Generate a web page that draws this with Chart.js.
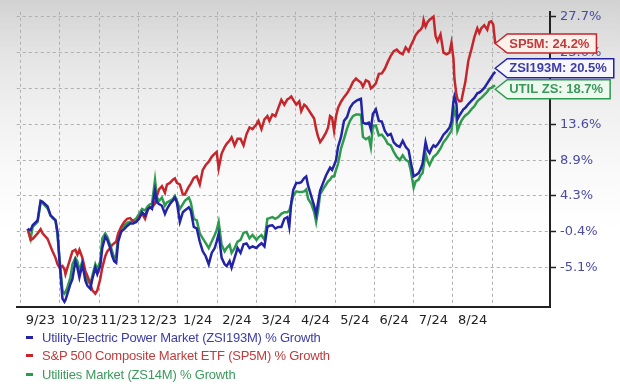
<!DOCTYPE html>
<html><head><meta charset="utf-8">
<script src="https://cdn.jsdelivr.net/npm/chart.js@4/dist/chart.umd.min.js"></script>
<style>
html,body{margin:0;padding:0;}
body{width:620px;height:387px;overflow:hidden;position:relative;
background:linear-gradient(180deg,#d2d2d2 0px,#e3e3e3 50px,#f0f0f0 110px,#f9f9f9 170px,#ffffff 230px);
font-family:"Liberation Sans",Arial,sans-serif;}
#c{position:absolute;left:0;top:0;}
#legend{position:absolute;left:26px;top:328px;font-size:13px;letter-spacing:-0.2px;}
.item{display:flex;align-items:center;height:18.5px;white-space:nowrap;}
.mk{display:inline-block;width:7px;height:3px;margin-right:9px;}
</style></head>
<body>
<canvas id="c" width="620" height="387"></canvas>
<div id="legend"></div>
<script>
// time axis: months elapsed since 1 Sep 2023
const monthsElapsed = [0.177,0.253,0.304,0.430,0.506,0.557,0.684,0.759,0.810,0.886,0.937,0.987,1.063,1.114,1.139,1.190,1.266,1.316,1.392,1.443,1.494,1.570,1.646,1.696,1.772,1.823,1.899,1.949,2.025,2.076,2.152,2.203,2.278,2.329,2.380,2.430,2.481,2.557,2.633,2.709,2.785,2.861,2.937,3.013,
3.089,3.165,3.241,3.291,3.342,3.418,3.468,3.519,3.595,3.671,3.722,3.797,3.873,3.924,3.975,4.051,4.127,4.177,4.278,4.329,4.405,4.481,4.557,4.633,4.709,4.785,4.861,4.937,4.987,5.038,5.114,5.190,5.241,5.316,5.367,5.443,5.519,5.595,5.671,5.747,5.823,5.899,
6.000,6.051,6.127,6.203,6.278,6.329,6.405,6.481,6.557,6.633,6.709,6.785,6.835,6.886,6.937,7.013,7.089,7.139,7.215,7.266,7.316,7.392,7.468,7.519,7.570,7.620,7.696,7.772,7.823,7.873,7.924,7.975,8.025,8.076,8.152,8.228,8.304,8.380,8.456,8.532,8.582,8.658,8.709,8.785,8.861,8.911,8.962,
9.038,9.114,9.190,9.266,9.342,9.418,9.494,9.570,9.646,9.722,9.797,9.873,9.924,10.000,10.051,10.127,10.177,10.228,10.253,10.304,10.354,10.405,10.456,10.506,10.557,10.608,10.684,10.759,10.835,10.911,10.962,11.013,11.038,11.089,11.114,11.165,11.215,11.266,11.316,11.392,11.468,11.544,11.620,11.671,11.722,11.797,11.873,11.924,11.975,12.025,12.076];

const electricPower = [0.0,-0.17,0.47,1.11,3.66,3.54,2.94,1.75,1.54,1.11,-0.38,-4.21,-9.10,-9.52,-9.3,-8.46,-7.19,-6.55,-4.21,-5.06,-6.33,-4.63,-6.76,-7.40,-7.82,-6.55,-5.06,-5.91,-4.84,-2.50,-1.02,-1.44,-2.50,-3.57,-4.21,-4.42,-1.65,-0.38,-0.04,0.39,0.69,0.69,0.90,1.32,
2.17,1.75,2.6,2.81,2.6,5.0,3.45,3.24,3.02,1.96,2.6,3.24,3.7,4.09,3.45,0.90,2.17,2.39,2.81,2.39,0.26,0.05,-1.66,-2.93,-3.57,-4.63,-3.14,-2.51,-1.66,-0.63,-3.78,-4.63,-4.85,-4.21,-5.06,-3.78,-2.51,-3.14,-2.0,-1.9,-2.51,-2.3,
-2.50,-2.2,-1.87,-2.29,0.26,0.4,0.47,0.05,0.26,0.26,1.32,1.54,0.26,3.45,5.1,6.0,6.0,6.1,6.64,6.85,5.6,4.3,3.0,1.9,3.5,5.0,6.0,7.0,7.5,8.0,7.7,8.3,8.98,10.7,12.0,14.1,14.6,15.8,16.4,16.7,16.85,17.0,13.87,13.7,13.87,13.0,15.0,
15.6,14.1,14.0,12.8,12.2,12.4,11.3,10.9,10.7,11.5,10.7,10.26,8.8,6.85,7.0,7.28,7.8,8.55,9.5,11.32,10.26,9.9,10.5,10.9,10.7,11.0,11.6,12.3,12.7,13.2,14.0,16.64,17.3,16.3,14.3,14.8,15.2,15.6,15.8,16.3,16.7,17.1,17.7,17.8,18.0,18.4,19.0,19.4,19.8,20.2,20.5];

const sp500 = [0.0,-1.44,-1.31,-0.59,-0.04,-0.59,-1.31,-2.29,-2.93,-3.78,-4.63,-5.06,-4.84,-5.27,-5.91,-5.06,-3.78,-2.93,-2.72,-3.36,-2.72,-3.78,-5.48,-6.12,-7.19,-8.04,-8.46,-8.04,-6.55,-5.06,-3.57,-2.93,-2.50,-2.08,-1.87,-1.65,-0.59,0.26,0.90,1.32,1.41,0.98,0.90,1.5,
2.0,1.32,2.6,2.81,2.81,3.3,4.30,5.15,5.58,4.73,5.79,6.0,6.43,6.6,6.0,5.79,4.5,4.5,5.5,5.9,6.64,6.86,5.79,7.70,8.34,8.77,9.41,9.83,10.04,7.9,9.83,10.68,11.1,11.53,11.96,10.90,11.75,11.75,10.90,12.38,13.24,13.02,
13.66,14.09,13.02,14.30,14.72,14.09,14.94,14.72,15.79,16.85,16.21,16.9,17.06,17.28,16.85,16.21,16.64,15.36,16.21,16.0,15.6,15.0,14.4,13.02,12.0,11.32,11.9,12.6,13.24,14.72,14.51,12.81,14.72,15.8,16.6,17.2,17.7,18.34,19.19,19.62,19.40,19.1,18.55,19.4,19.2,18.34,18.55,
19.0,20.25,20.3,20.9,21.8,22.6,23.2,23.4,23.0,22.8,23.7,23.2,23.87,24.7,25.3,25.8,26.0,26.4,27.27,26.4,27.0,27.3,27.5,27.7,25.2,24.5,25.4,23.0,22.8,23.0,24.3,22.2,19.6,17.5,17.0,16.64,16.7,18.0,19.19,21.96,23.4,25.0,26.2,25.6,26.2,26.6,26.0,27.0,27.1,26.7,24.2];

const utilities = [0.0,-1.31,0.26,0.90,3.45,3.37,2.69,1.75,1.41,1.11,-0.80,-3.78,-8.04,-8.46,-8.3,-7.61,-6.33,-4.63,-3.78,-4.21,-5.48,-4.21,-5.91,-6.76,-7.19,-6.12,-4.63,-5.27,-4.21,-1.23,-0.59,-1.02,-2.08,-2.93,-3.78,-3.57,-0.80,-0.04,0.39,0.81,0.90,1.11,1.32,1.96,
2.6,2.4,3.0,3.2,3.3,6.4,4.1,3.66,4.09,3.02,3.45,3.66,3.9,4.30,3.66,2.6,3.24,3.66,4.09,3.45,1.32,1.11,-0.59,-1.23,-1.87,-2.51,-1.66,-0.80,-0.17,0.9,-2.08,-2.93,-2.51,-2.08,-3.14,-2.51,-1.66,-1.44,-0.5,-0.4,-1.23,-0.8,
-1.44,-1.1,-0.80,-1.44,1.32,1.4,1.54,1.32,1.54,1.96,2.17,2.17,2.4,3.3,4.3,4.9,4.8,4.8,4.9,5.15,3.9,3.3,2.2,0.9,2.5,4.5,5.2,5.8,6.2,6.43,6.85,6.85,7.70,8.5,10.5,11.75,13.1,14.1,14.72,14.94,14.94,14.9,12.0,11.7,11.96,10.68,13.45,
13.5,12.2,12.3,11.8,11.1,10.9,10.05,9.4,9.0,9.6,9.0,8.77,7.7,5.37,6.2,6.43,7.0,7.3,8.2,9.83,8.9,8.34,8.9,9.4,9.6,9.9,10.5,11.3,11.8,12.4,12.8,14.9,15.5,14.5,12.8,13.5,14.1,14.5,14.8,15.1,15.6,16.0,16.64,16.9,17.1,17.5,17.9,18.3,18.4,18.6,18.7];

const monthLabels = ['9/23','10/23','11/23','12/23','1/24','2/24','3/24','4/24','5/24','6/24','7/24','8/24'];
const yTickValues = [-5.1,-0.4,4.3,8.9,13.6,18.3,23.0,27.7];
const seriesNames = ['Utility-Electric Power Market (ZSI193M) % Growth','S&P 500 Composite Market ETF (SP5M) % Growth','Utilities Market (ZS14M) % Growth'];
const seriesCodes = ['ZSI193M','SP5M','UTIL ZS'];

const lineColors = ['#2323a6','#c4262c','#2e9a4e'];
const textColors = ['#3d3da6','#c23b3b','#3a9a5c'];
const tagFills = ['#f6f6fc','#fcf1ea','#eef8ee'];
const seriesValues = [electricPower, sp500, utilities];

const toPoints = arr => arr.map((v,i)=>({x:monthsElapsed[i], y:v}));

// legend
const lg = document.getElementById('legend');
seriesNames.forEach((n,i)=>{
  const d=document.createElement('div'); d.className='item'; d.style.color=textColors[i];
  const m=document.createElement('span'); m.className='mk'; m.style.background=lineColors[i];
  d.appendChild(m); d.appendChild(document.createTextNode(n)); lg.appendChild(d);
});

const tagPlugin = {
  id:'tags',
  afterDraw(chart){
    const ctx = chart.ctx, ys = chart.scales.y, xs = chart.scales.x;
    const lastT = monthsElapsed[monthsElapsed.length-1];
    const tip = xs.getPixelForValue(lastT);
    const tags = seriesValues.map((arr,i)=>({i, v:arr[arr.length-1], py: ys.getPixelForValue(arr[arr.length-1])}));
    tags.sort((a,b)=>a.py-b.py);
    const gap = 21;
    for (let k=0;k<10;k++){
      for (let j=0;j<tags.length-1;j++){
        const d = tags[j+1].py - tags[j].py;
        if (d < gap){ const s=(gap-d)/2; tags[j].py-=s; tags[j+1].py+=s; }
      }
    }
    ctx.save();
    ctx.font = 'bold 13px "Liberation Sans", Arial, sans-serif';
    ctx.textBaseline = 'middle';
    tags.forEach(t=>{
      const label = seriesCodes[t.i] + ': ' + t.v.toFixed(1) + '%';
      const w = ctx.measureText(label).width;
      const h = 19, cy = t.py, left = tip, body = tip+12, right = tip+14+w+7;
      ctx.beginPath();
      ctx.moveTo(left, cy);
      ctx.lineTo(body, cy-h/2);
      ctx.lineTo(right, cy-h/2);
      ctx.lineTo(right, cy+h/2);
      ctx.lineTo(body, cy+h/2);
      ctx.closePath();
      ctx.fillStyle = tagFills[t.i]; ctx.fill();
      ctx.lineWidth = 1.5; ctx.strokeStyle = lineColors[t.i]; ctx.stroke();
      ctx.fillStyle = textColors[t.i];
      ctx.fillText(label, tip+14, cy+0.5);
    });
    ctx.restore();
  }
};

new Chart(document.getElementById('c'), {
  type:'line',
  data:{
    datasets: seriesNames.map((n,i)=>({
      label:n, data: toPoints(seriesValues[i]),
      borderColor: lineColors[i], backgroundColor: lineColors[i],
      borderWidth:2.5, pointRadius:0, tension:0, fill:false
    }))
  },
  options:{
    responsive:false, animation:false,
    layout:{padding:{left:14, top:5, right:0, bottom:0}},
    plugins:{legend:{display:false}, tooltip:{enabled:false}},
    scales:{
      x:{
        type:'linear', position:'bottom', min:-0.1, max:13.47,
        afterBuildTicks: s => { s.ticks = Array.from({length:13},(_,k)=>({value:k})); },
        afterFit: s => { s.height = 80; },
        grid:{color:'#b0b0b0', lineWidth:1, drawTicks:false},
        border:{display:true, color:'#222', width:2, dash:[3,3]},
        ticks:{
          autoSkip:false, maxRotation:0, padding:6, labelOffset:19.75,
          color:'#222', font:{family:'"DejaVu Sans"', size:13},
          callback: v => (v>=0 && v<monthLabels.length) ? monthLabels[v] : ''
        }
      },
      y:{
        type:'linear', position:'right', min:-10.2, max:28.34,
        afterBuildTicks: s => { s.ticks = yTickValues.map(v=>({value:v})); },
        afterFit: s => { s.width = 70; },
        grid:{color:'#b0b0b0', lineWidth:1, drawTicks:true, tickLength:6, tickColor:'#222', tickWidth:1.5},
        border:{display:true, color:'#222', width:2, dash:[3,3]},
        ticks:{
          padding:4, color:'#4b4ba3', font:{family:'"DejaVu Sans"', size:13},
          callback: v => Number(v).toFixed(1) + '%'
        }
      }
    }
  },
  plugins:[tagPlugin]
});
</script>
</body></html>
